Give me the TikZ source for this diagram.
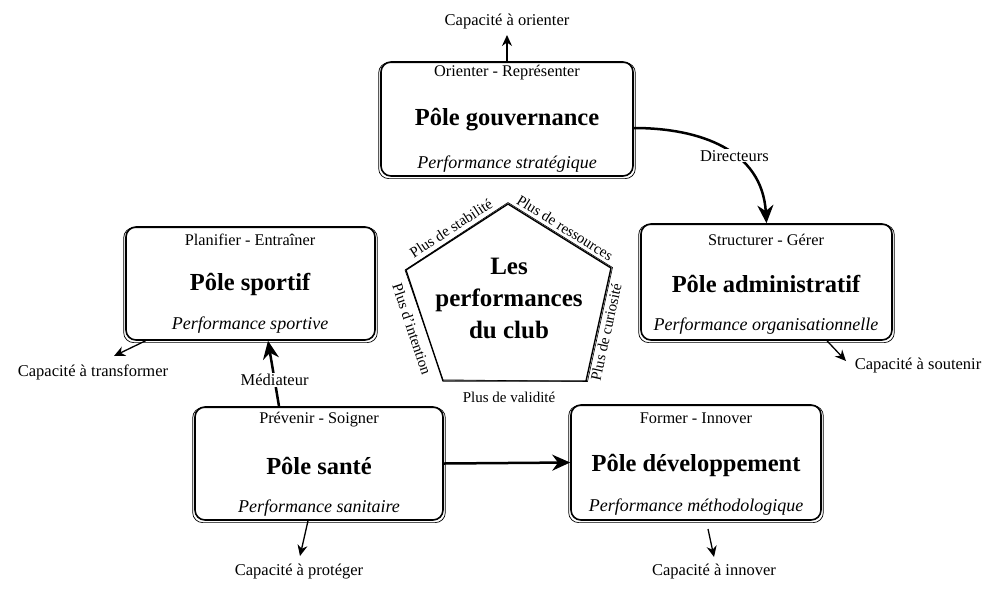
\documentclass[tikz,border=0pt]{standalone}
\usepackage{fontspec}
\setmainfont{Liberation Serif}
\usetikzlibrary{arrows.meta}
\begin{document}
\begin{tikzpicture}[x=1pt,y=-1pt,
  pbox/.style={draw, line width=1.6pt, rounded corners=10pt, inner sep=0pt},
  pboxb/.style={draw, line width=0.7pt, rounded corners=10pt},
  sub/.style={inner sep=0pt, font=\fontsize{16.3}{19}\selectfont},
  ttl/.style={inner sep=0pt, font=\fontsize{24.5}{28}\selectfont\bfseries},
  perf/.style={inner sep=0pt, font=\fontsize{18}{21}\selectfont\itshape},
  lab/.style={inner sep=1pt, font=\fontsize{16.5}{19}\selectfont},
  elab/.style={inner sep=0pt, font=\fontsize{15}{17}\selectfont},
  sarr/.style={line width=1.3pt, -{Stealth[length=11pt,width=10pt]}},
  barr/.style={line width=2.5pt, -{Stealth[length=18pt,width=16pt]}},
  pent/.style={line width=1.4pt, line join=round}
]
\useasboundingbox (0,0) rectangle (990,600);

% ---------- boxes ----------
\node[pbox, minimum width=252pt, minimum height=114pt] (gov)   at (507,119)   {};
\node[pbox, minimum width=249pt, minimum height=113pt] (sport) at (250.5,283.5) {};
\node[pbox, minimum width=251pt, minimum height=116pt] (admin) at (766.5,282) {};
\node[pbox, minimum width=248pt, minimum height=113pt] (sante) at (319,463.5) {};
\node[pbox, minimum width=250pt, minimum height=115pt] (dev)   at (696,462.5) {};
\foreach \n in {gov,sport,admin,sante,dev}{
  \draw[pboxb] ([shift={(-1.5,1.5)}]\n.north west) rectangle ([shift={(1.5,1.8)}]\n.south east);
}

% ---------- box texts ----------
\node[sub]  at (507,73)  {Orienter - Représenter};
\node[ttl]  at (507,120) {Pôle gouvernance};
\node[perf] at (507,164) {Performance stratégique};

\node[sub]  at (250,240) {Planifier - Entraîner};
\node[ttl]  at (250,284) {Pôle sportif};
\node[perf] at (250,325) {Performance sportive};

\node[sub]  at (766,240) {Structurer - Gérer};
\node[ttl]  at (766,284) {Pôle administratif};
\node[perf] at (766,326) {Performance organisationnelle};

\node[sub]  at (319,420) {Prévenir - Soigner};
\node[ttl]  at (319,466) {Pôle santé};
\node[perf] at (319,508) {Performance sanitaire};

\node[sub]  at (696,418) {Former - Innover};
\node[ttl]  at (696,465) {Pôle développement};
\node[perf] at (696,507) {Performance méthodologique};

% ---------- pentagon ----------
\coordinate (p1) at (508,204);
\coordinate (p2) at (611,268);
\coordinate (p3) at (586,381);
\coordinate (p4) at (443,381);
\coordinate (p5) at (406,270);
\draw[pent] (p1) -- (p2) -- (p3) -- (p4) -- (p5) -- cycle;
\draw[line width=0.6pt, line join=round] ([shift={(0,-1.5)}]p1) -- ([shift={(1.5,-0.5)}]p2) -- ([shift={(1.5,0.5)}]p3) -- ([shift={(0,-1.2)}]p4) -- ([shift={(-1,0)}]p5) -- cycle;
\node[align=center, inner sep=0pt, font=\fontsize{25}{32}\selectfont\bfseries] (perf) at (509,298) {Les\\performances\\du club};

\node[elab, rotate=32.9]  (stab) at (451,228) {Plus de stabilité};
\node[elab, rotate=-31.9] (ress) at (565,228) {Plus de ressources};
\node[elab, rotate=77.5]  (curi) at (606,332) {Plus de curiosité};
\node[elab]               (vali) at (509,397) {Plus de validité};
\node[elab, rotate=-71.6] (inte) at (412,329) {Plus d'intention};

% ---------- outer labels ----------
\node[lab] (orient) at (507,22)  {Capacité à orienter};
\node[lab] (trans)  at (93,372)  {Capacité à transformer};
\node[lab] (sout)   at (918,366) {Capacité à soutenir};
\node[lab] (prot)   at (299,572) {Capacité à protéger};
\node[lab] (innov)  at (714,572) {Capacité à innover};

\coordinate (orientTip) at (507,35);
\coordinate (transTip)  at (114,356);
\coordinate (soutTip)   at (846,361);
\coordinate (protTip)   at (300,556);
\coordinate (innovStart) at (708,529);
\coordinate (innovTip)  at (714,557);

\draw[sarr] (gov.north) -- (orientTip);
\draw[sarr] ([xshift=-105pt]sport.south) -- (transTip);
\draw[sarr] ([xshift=60.5pt]admin.south) -- (soutTip);
\draw[sarr] ([xshift=-11pt]sante.south) -- (protTip);
\draw[sarr] (innovStart) -- (innovTip);

% ---------- main connectors ----------
\draw[barr] ([yshift=-9pt]gov.east) .. controls (700,128) and (762,150) .. (admin.north)
  node[pos=0.58, fill=white, lab] {Directeurs};
\draw[barr] ([xshift=-40pt]sante.north) -- node[pos=0.4, fill=white, lab] {Médiateur} ([xshift=17.5pt]sport.south);
\draw[barr] (sante.east) -- (dev.west);
\end{tikzpicture}
\end{document}
